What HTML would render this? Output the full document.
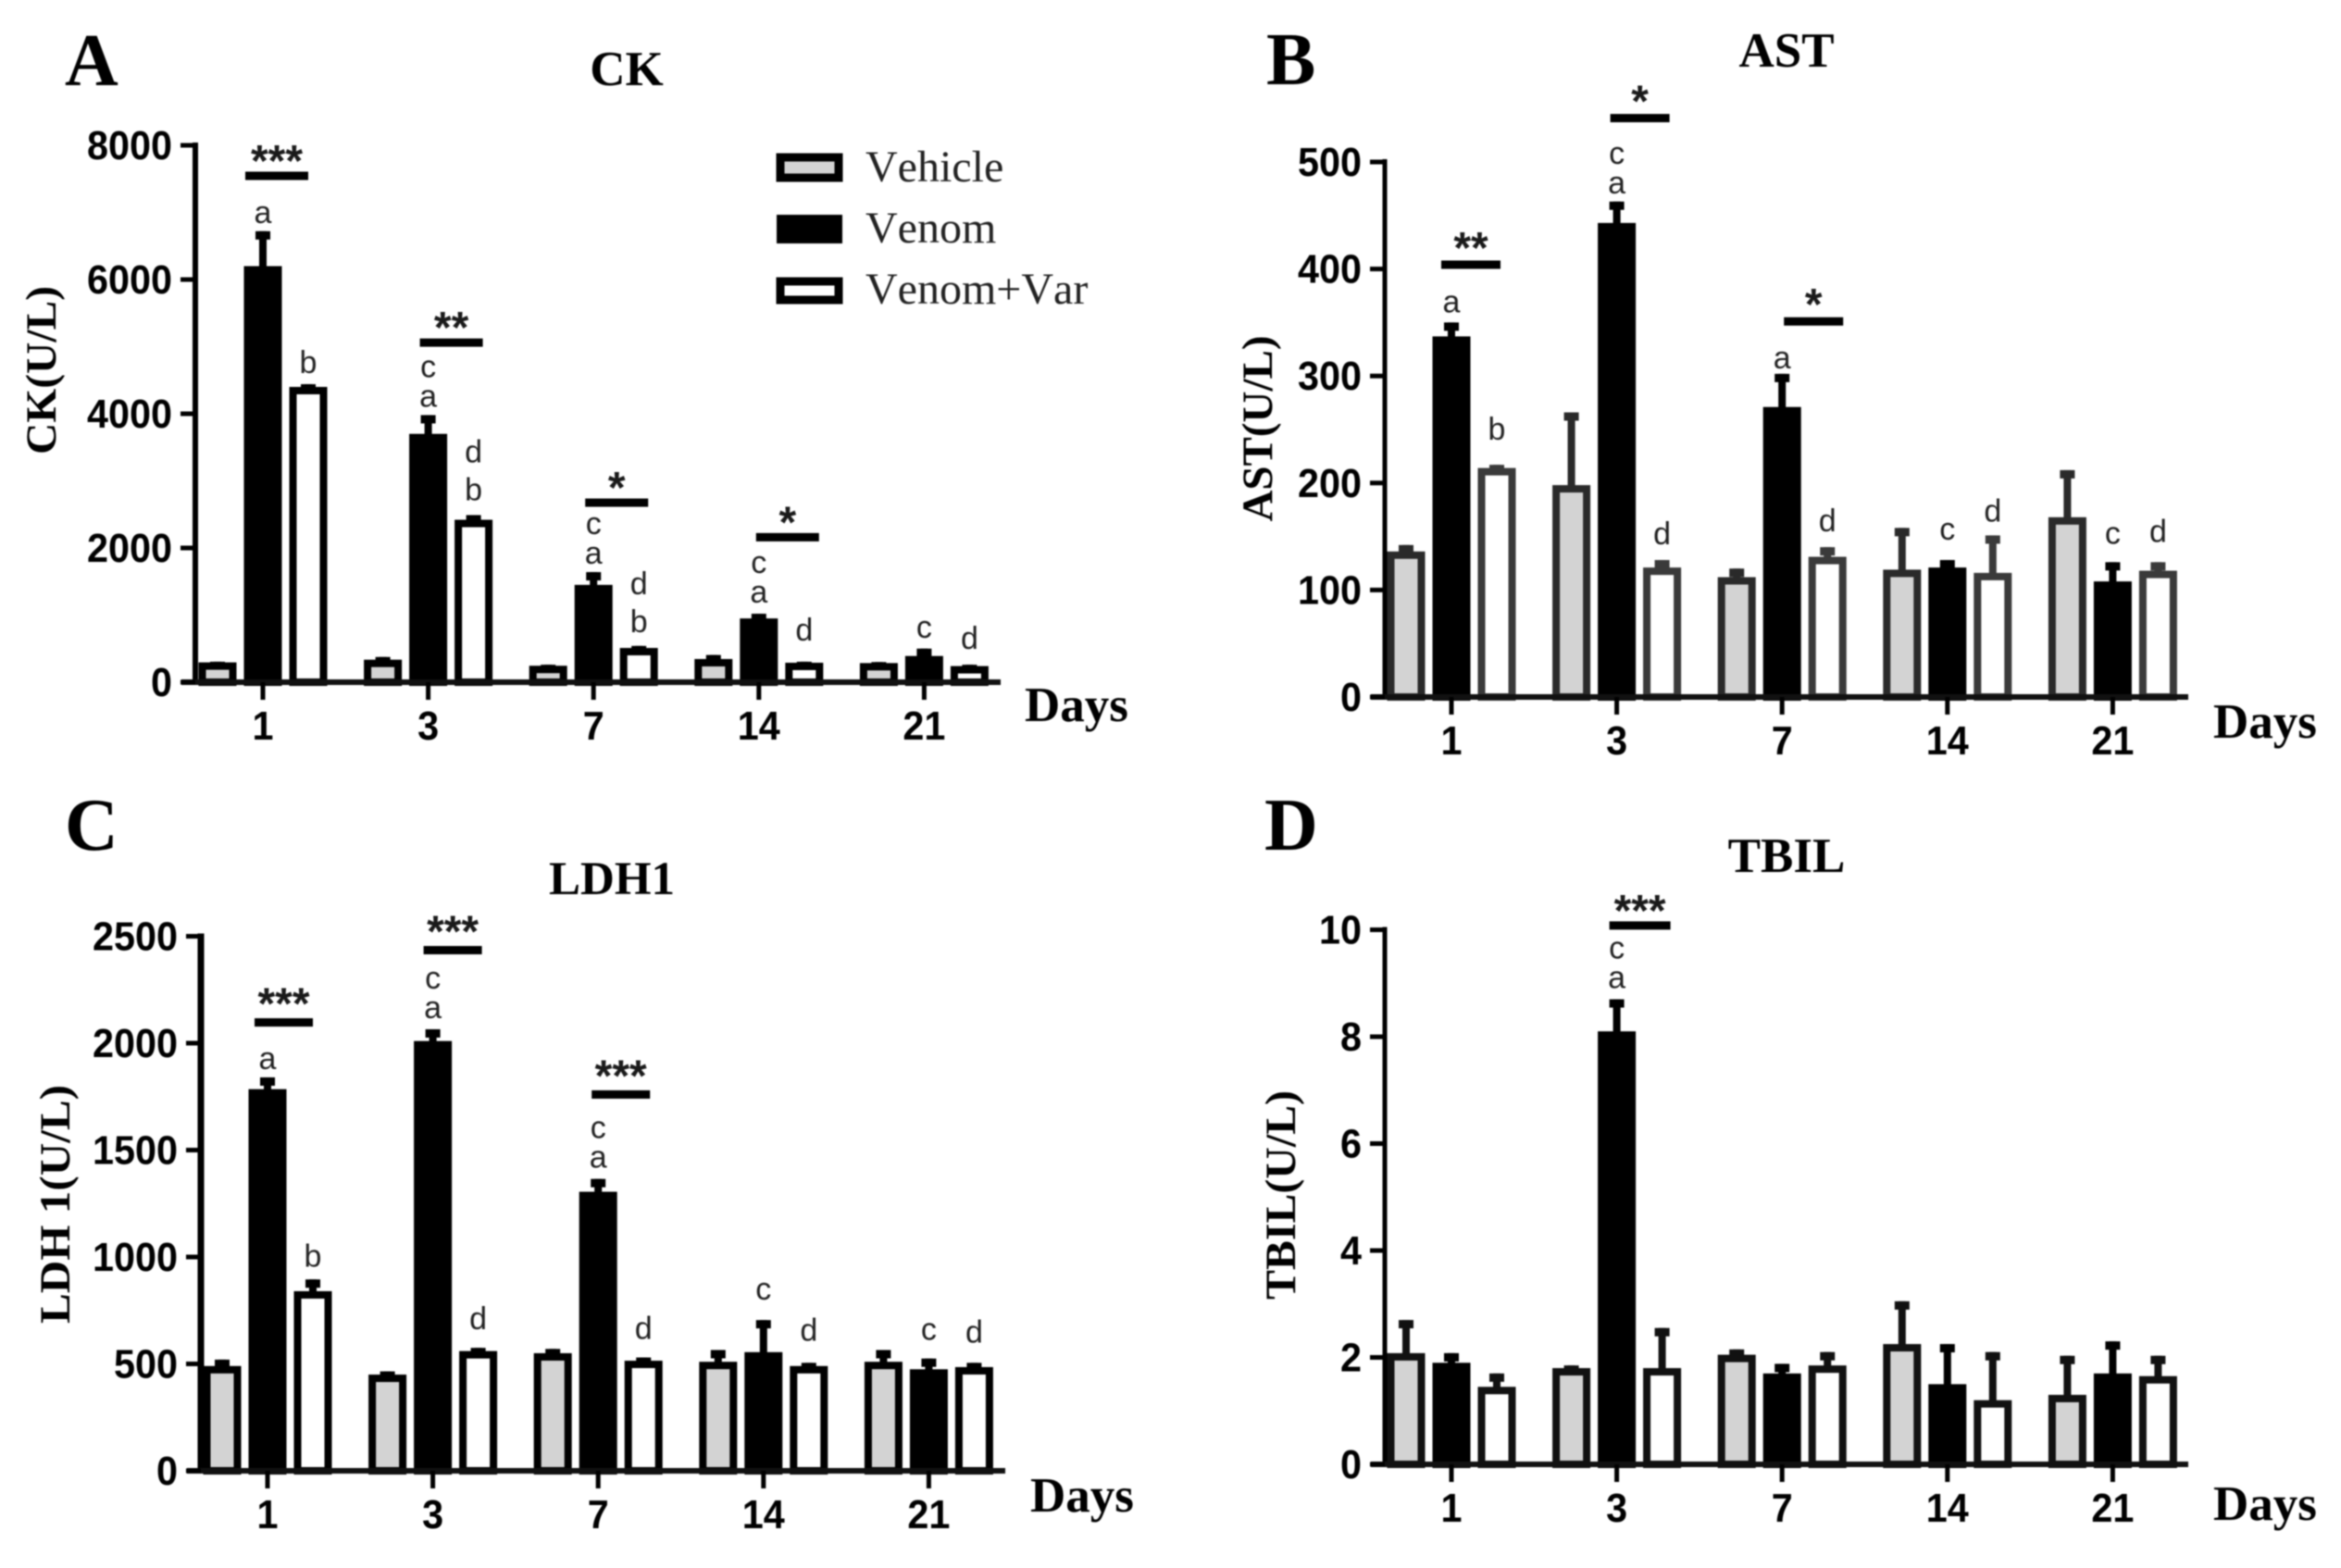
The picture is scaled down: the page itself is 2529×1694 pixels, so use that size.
<!DOCTYPE html>
<html lang="en">
<head>
<meta charset="utf-8">
<title>Serum enzyme panels</title>
<style>
html,body{margin:0;padding:0;background:#fff;}
svg{display:block;filter:blur(0.9px);}
text{font-kerning:none;}
.num{font-family:"Liberation Sans",sans-serif;font-weight:700;font-size:44px;fill:#000;}
.ser{font-family:"Liberation Serif",serif;font-weight:700;fill:#000;}
.let{font-family:"Liberation Sans",sans-serif;font-size:34px;fill:#222;}
.star{font-family:"Liberation Sans",sans-serif;font-weight:700;font-size:48px;fill:#1a1a1a;}
.leg{font-family:"Liberation Serif",serif;font-size:48px;fill:#222;}
</style>
</head>
<body>
<svg id="fig" xmlns="http://www.w3.org/2000/svg" width="2529" height="1694" viewBox="0 0 2529 1694">
  <rect width="2529" height="1694" fill="#fff"/>
  <g>
    <g>
      <rect x="843" y="170" width="63" height="22" fill="#d3d3d3" stroke="#000" stroke-width="9"/>
      <text class="leg" x="935" y="196">Vehicle</text>
    </g>
    <g>
      <rect x="839" y="232" width="71" height="31" fill="#000"/>
      <text class="leg" x="935" y="262">Venom</text>
    </g>
    <g>
      <rect x="843" y="304" width="63" height="20" fill="#fff" stroke="#000" stroke-width="9"/>
      <text class="leg" x="935" y="328">Venom+Var</text>
    </g>
  </g>
</svg>
<script>
/* shared categories */
const days = ['1','3','7','14','21'];

/* Panel A: CK */
const ckTicks = [0,2000,4000,6000,8000];
const ckVehicle = [295,335,245,345,285];
const ckVenom = [6200,3700,1450,950,390];
const ckVar = [4400,2420,510,290,240];
const ckVehicleUpper = [305,375,260,405,300];
const ckVenomUpper = [6720,3980,1640,1020,500];
const ckVarUpper = [4440,2490,540,305,260];
const ckLetters = [[0,1,'a'],[0,2,'b'],[1,1,'ac'],[1,2,'bd'],[2,1,'ac'],[2,2,'bd'],[3,1,'ac'],[3,2,'d'],[4,1,'c'],[4,2,'d']];
const ckSigGroups = [0,1,2,3];
const ckSigLevels = [7545,5060,2675,2160];
const ckSigStars = ['***','**','*','*'];

/* Panel B: AST */
const astTicks = [0,100,200,300,400,500];
const astVehicle = [136,198,112,119,168];
const astVenom = [337,443,271,121,108];
const astVar = [214,121,131,116,118];
const astVehicleUpper = [142,266,120,158,212];
const astVenomUpper = [350,463,302,128,126];
const astVarUpper = [217,128,140,151,126];
const astLetters = [[0,1,'a'],[0,2,'b'],[1,1,'ac'],[1,2,'d'],[2,1,'a'],[2,2,'d'],[3,1,'c'],[3,2,'d'],[4,1,'c'],[4,2,'d']];
const astSigGroups = [0,1,2];
const astSigLevels = [404,541,351];
const astSigStars = ['**','*','*'];

/* Panel C: LDH1 */
const ldhTicks = [0,500,1000,1500,2000,2500];
const ldhVehicle = [490,450,550,510,510];
const ldhVenom = [1785,2010,1305,555,475];
const ldhVar = [840,560,515,490,485];
const ldhVehicleUpper = [520,465,570,565,565];
const ldhVenomUpper = [1840,2065,1365,705,525];
const ldhVarUpper = [895,575,530,505,505];
const ldhLetters = [[0,1,'a'],[0,2,'b'],[1,1,'ac'],[1,2,'d'],[2,1,'ac'],[2,2,'d'],[3,1,'c'],[3,2,'d'],[4,1,'c'],[4,2,'d']];
const ldhSigGroups = [0,1,2];
const ldhSigLevels = [2097,2435,1760];
const ldhSigStars = ['***','***','***'];

/* Panel D: TBIL */
const tbilTicks = [0,2,4,6,8,10];
const tbilVehicle = [2.08,1.8,2.05,2.25,1.3];
const tbilVenom = [1.9,8.1,1.7,1.5,1.7];
const tbilVar = [1.45,1.8,1.85,1.2,1.65];
const tbilVehicleUpper = [2.7,1.85,2.15,3.05,2.03];
const tbilVenomUpper = [2.08,8.7,1.88,2.25,2.3];
const tbilVarUpper = [1.7,2.55,2.1,2.1,2.03];
const tbilLetters = [[1,1,'ac']];
const tbilSigGroups = [1];
const tbilSigLevels = [10.08];
const tbilSigStars = ['***'];

const NS = 'http://www.w3.org/2000/svg';
const fig = document.getElementById('fig');

function mk(parent, tag, attrs, txt){
  const e = document.createElementNS(NS, tag);
  for (const k in attrs) e.setAttribute(k, attrs[k]);
  if (txt !== undefined) e.textContent = txt;
  parent.appendChild(e);
  return e;
}

function drawPanel(cfg){
  const g = mk(fig,'g',{});
  
  

  const maxV = cfg.ticks[cfg.ticks.length-1];
  const yScale = v => cfg.base - (v/maxV)*(cfg.base - cfg.top);
  const xGroup = i => cfg.x0 + i*cfg.pitch;
  const xBar = (i,s) => xGroup(i) + (s-1)*49;

  const letterEl = mk(g,'text',{class:'ser','font-size':80,x:cfg.letterX,y:cfg.letterY}, cfg.letter);
  
  

  const titleEl = mk(g,'text',{class:'ser','font-size':cfg.titleSize,x:cfg.titleX,y:cfg.titleY,'text-anchor':'middle'}, cfg.title);
  
  

  const yTitle = mk(g,'text',{class:'ser','font-size':47,'text-anchor':'middle',textLength:cfg.yLen,lengthAdjust:'spacingAndGlyphs',transform:'translate('+cfg.yLabX+','+cfg.yLabY+') rotate(-90)'}, cfg.yLabel);
  
  

  const xTitle = mk(g,'text',{class:'ser','font-size':53,x:cfg.daysX,y:cfg.daysY}, 'Days');
  
  

  /* series */
  cfg.series.forEach((ser,s) => {
    ser.values.forEach((v,i) => {
      const cx = xBar(i,s);
      const yTop = yScale(v);
      const yErr = yScale(ser.upper[i]);
      const col = ser.stroke;
      const stem = mk(g,'rect',{x:cx-4,y:yErr,width:8,height:Math.max(0,yTop-yErr)+2,fill:col});
      
      
      const cap = mk(g,'rect',{x:cx-8,y:yErr,width:16,height:9,fill:col});
      
      
      const bar = mk(g,'rect',{x:cx-16.5,y:yTop+4,width:33,height:Math.max(0,cfg.base-yTop-4),fill:ser.fill,stroke:col,'stroke-width':8});
      
      
    });
  });

  /* axes */
  const yAxis = mk(g,'rect',{x:cfg.axisX-cfg.axisW/2,y:cfg.top-3,width:cfg.axisW,height:cfg.base-cfg.top+6,fill:'#000'});
  
  
  const xAxis = mk(g,'rect',{x:cfg.axisX-15,y:cfg.base-3,width:cfg.axisEnd-cfg.axisX+15,height:6,fill:'#111'});
  
  

  cfg.ticks.forEach(t => {
    const y = yScale(t);
    const tick = mk(g,'rect',{x:cfg.axisX-16,y:y-2.5,width:16,height:5,fill:'#000'});
    
    
    const label = String(t);
    const lab = mk(g,'text',{class:'num',x:cfg.axisX-25,y:y+15,'text-anchor':'end',textLength:label.length*23,lengthAdjust:'spacingAndGlyphs'}, label);
    
    
  });
  days.forEach((d,i) => {
    const x = xGroup(i);
    const tick = mk(g,'rect',{x:x-2.5,y:cfg.base,width:5,height:19,fill:'#000'});
    
    
    const lab = mk(g,'text',{class:'num',x:x,y:cfg.base+62,'text-anchor':'middle',textLength:d.length*23,lengthAdjust:'spacingAndGlyphs'}, d);
    
    
  });

  /* letter annotations, stacked upward from the error cap */
  cfg.letters.forEach((item,n) => {
    const group = item[0], s = item[1], str = item[2];
    let y = yScale(cfg.series[s].upper[group]) - 9 - cfg.letterLift[n];
    for (let k = 0; k < str.length; k++){
      if (k > 0) y -= (str[k-1] === 'b' ? 41 : 32);
      const t = mk(g,'text',{class:'let',x:xBar(group,s),y:y,'text-anchor':'middle'}, str[k]);
      
      
    }
  });

  /* significance bars */
  cfg.sigGroups.forEach((gi,k) => {
    const y = yScale(cfg.sigLevels[k]);
    const x1 = xGroup(gi) + cfg.sigShift[k];
    const bar = mk(g,'rect',{x:x1,y:y-4.5,width:cfg.sigWidth,height:9,fill:'#000'});
    
    
    const st = mk(g,'text',{class:'star',x:x1+cfg.sigWidth/2,y:y+8-cfg.starLift,'text-anchor':'middle'}, cfg.sigStars[k]);
    
    
  });
}

drawPanel({
  key:'ck', letter:'A', letterX:70, letterY:92, title:'CK', titleSize:53, titleX:677, titleY:92,
  yLabel:'CK(U/L)', yLabX:60, yLabY:400, yLen:182, daysX:1107, daysY:779,
  ticks:ckTicks, top:157, base:737, x0:284, pitch:178.6, axisX:211, axisW:6, axisEnd:1081,
  series:[
    {name:'vehicle',values:ckVehicle,upper:ckVehicleUpper,fill:'#d3d3d3',stroke:'#000'},
    {name:'venom',values:ckVenom,upper:ckVenomUpper,fill:'#000',stroke:'#000'},
    {name:'venom-var',values:ckVar,upper:ckVarUpper,fill:'#fff',stroke:'#000'}],
  letters:ckLetters, letterLift:[0,3,0,7,0,6,3,14,3,8],
  sigGroups:ckSigGroups, sigLevels:ckSigLevels, sigStars:ckSigStars,
  sigShift:[-19,-9,-9,-3], sigWidth:68, starLift:8
});
drawPanel({
  key:'ast', letter:'B', letterX:1368, letterY:91, title:'AST', titleSize:53, titleX:1930, titleY:72,
  yLabel:'AST(U/L)', yLabX:1374, yLabY:463, yLen:201, daysX:2391, daysY:797,
  ticks:astTicks, top:175, base:753, x0:1568, pitch:178.6, axisX:1496, axisW:5, axisEnd:2364,
  series:[
    {name:'vehicle',values:astVehicle,upper:astVehicleUpper,fill:'#d3d3d3',stroke:'#2a2a2a'},
    {name:'venom',values:astVenom,upper:astVenomUpper,fill:'#000',stroke:'#000'},
    {name:'venom-var',values:astVar,upper:astVarUpper,fill:'#fff',stroke:'#3a3a3a'}],
  letters:astLetters, letterLift:[2,18,0,8,-3,8,13,6,11,13],
  sigGroups:astSigGroups, sigLevels:astSigLevels, sigStars:astSigStars,
  sigShift:[-11,-7,2], sigWidth:64, starLift:10
});
drawPanel({
  key:'ldh', letter:'C', letterX:70, letterY:918, title:'LDH1', titleSize:51, titleX:661, titleY:966,
  yLabel:'LDH 1(U/L)', yLabX:75, yLabY:1301, yLen:258, daysX:1113, daysY:1633,
  ticks:ldhTicks, top:1011.5, base:1589, x0:289, pitch:178.6, axisX:217, axisW:7, axisEnd:1086,
  series:[
    {name:'vehicle',values:ldhVehicle,upper:ldhVehicleUpper,fill:'#d3d3d3',stroke:'#000'},
    {name:'venom',values:ldhVenom,upper:ldhVenomUpper,fill:'#000',stroke:'#000'},
    {name:'venom-var',values:ldhVar,upper:ldhVarUpper,fill:'#fff',stroke:'#000'}],
  letters:ldhLetters, letterLift:[0,5,3,11,3,11,13,15,11,13],
  sigGroups:ldhSigGroups, sigLevels:ldhSigLevels, sigStars:ldhSigStars,
  sigShift:[-14,-10,-7], sigWidth:63, starLift:12
});
drawPanel({
  key:'tbil', letter:'D', letterX:1366, letterY:918, title:'TBIL', titleSize:53, titleX:1930, titleY:942,
  yLabel:'TBIL(U/L)', yLabX:1399, yLabY:1291, yLen:226, daysX:2391, daysY:1642,
  ticks:tbilTicks, top:1004.5, base:1582, x0:1568, pitch:178.6, axisX:1496, axisW:5, axisEnd:2364,
  series:[
    {name:'vehicle',values:tbilVehicle,upper:tbilVehicleUpper,fill:'#d3d3d3',stroke:'#111'},
    {name:'venom',values:tbilVenom,upper:tbilVenomUpper,fill:'#000',stroke:'#000'},
    {name:'venom-var',values:tbilVar,upper:tbilVarUpper,fill:'#fff',stroke:'#111'}],
  letters:tbilLetters, letterLift:[3],
  sigGroups:tbilSigGroups, sigLevels:tbilSigLevels, sigStars:tbilSigStars,
  sigShift:[-8], sigWidth:66, starLift:8
});
</script>
</body>
</html>
